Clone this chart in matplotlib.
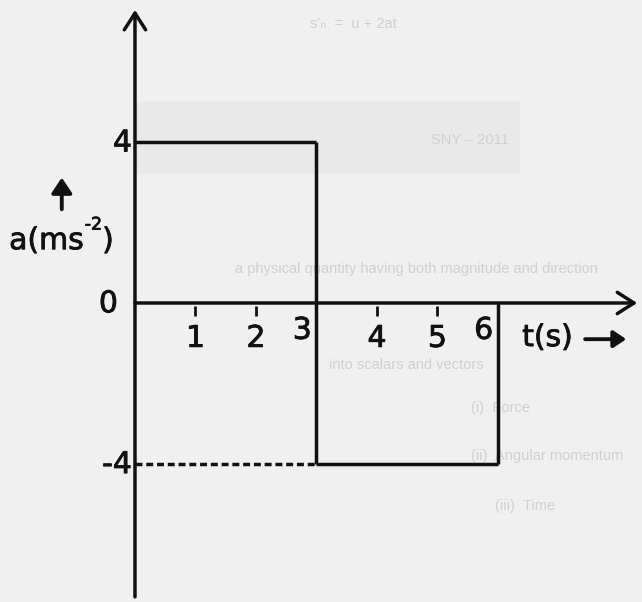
import matplotlib
matplotlib.use("Agg")
import matplotlib.pyplot as plt
import matplotlib.patheffects as pe

plt.rcParams['font.family'] = ['DejaVu Sans']

# acceleration-time data: piecewise constant acceleration
t_edges = [0, 3, 6]          # s
accel = [4, -4]              # m s^-2
t_ticks = [1, 2, 3, 4, 5, 6]
a_ticks = [4, 0, -4]

INK = '#111111'
PAPER = '#f0f0f0'
FAINT = '#d0d0d0'
FS = 21.5
heavy = [pe.withStroke(linewidth=0.6, foreground=INK)]

fig = plt.figure(figsize=(6.42, 6.02), dpi=100, facecolor=PAPER)
ax = fig.add_axes([0, 0, 1, 1])
ax.set_facecolor(PAPER)
ax.set_xlim(-2.231, 8.380)
ax.set_ylim(-7.438, 7.537)
ax.axis('off')

# faint print showing through from the reverse of the page
ax.axhspan(3.2, 5.0, xmin=0.21, xmax=0.81, color='#e9e9e9', zorder=0, lw=0)
faint = [
    (2.9, 6.95, "s'ₙ  =  u + 2at"),
    (4.9, 4.05, "SNY – 2011"),
    (1.65, 0.85, "a physical quantity having both magnitude and direction"),
    (3.2, -1.55, "into scalars and vectors"),
    (5.55, -2.6, "(i)  Force"),
    (5.55, -3.8, "(ii)  Angular momentum"),
    (5.95, -5.05, "(iii)  Time"),
]
for x, y, s in faint:
    ax.text(x, y, s, color=FAINT, fontsize=10.5, ha='left', va='center',
            zorder=0, family=['Liberation Sans', 'DejaVu Sans'])

LW = 2.5
open_head = dict(arrowstyle='->,head_length=0.5,head_width=0.32',
                 lw=LW, color=INK, mutation_scale=24, shrinkA=0, shrinkB=0)
# axes with open arrowheads
ax.annotate('', xy=(0, 7.29), xytext=(0, -7.31), arrowprops=open_head)
ax.annotate('', xy=(8.30, 0), xytext=(0, 0), arrowprops=open_head)

# acceleration segments
ax.hlines(accel[0], t_edges[0], t_edges[1], color=INK, lw=LW)
ax.vlines(t_edges[1], accel[1], accel[0], color=INK, lw=LW)
ax.hlines(accel[1], t_edges[1], t_edges[2], color=INK, lw=LW)
ax.vlines(t_edges[2], accel[1], 0, color=INK, lw=LW)
ax.hlines(accel[1], t_edges[0], t_edges[1], color=INK, lw=LW,
          linestyles=(0, (2.0, 1.1)))

# small tick marks on the time axis
minor = [t for t in t_ticks if t not in t_edges]
ax.vlines(minor, -0.07, -0.33, color=INK, lw=2.0)

# time tick labels
for t in t_ticks:
    if t in t_edges:
        ax.text(t - 0.08, -0.68, str(t), fontsize=FS, ha='right', va='center',
                color=INK, path_effects=heavy)
    else:
        ax.text(t, -0.88, str(t), fontsize=FS, ha='center', va='center',
                color=INK, path_effects=heavy)

# acceleration tick labels
for a in a_ticks:
    xoff = -0.28 if a == 0 else -0.05
    ax.text(xoff, a - 0.02, str(a), fontsize=FS, ha='right', va='center',
            color=INK, path_effects=heavy)

# vertical axis title: a(ms^-2) with a raised "-2"
fig.canvas.draw()
r = fig.canvas.get_renderer()
t1 = ax.text(-2.08, 1.55, 'a(ms', fontsize=FS, ha='left', va='center',
             color=INK, path_effects=heavy)
bb = t1.get_window_extent(r)
x_sup = ax.transData.inverted().transform((bb.x1 + 1, 0))[0]
t2 = ax.text(x_sup, 1.95, '-2', fontsize=12.5, ha='left', va='center',
             color=INK, path_effects=heavy)
bb2 = t2.get_window_extent(r)
x_par = ax.transData.inverted().transform((bb2.x1, 0))[0]
ax.text(x_par, 1.55, ')', fontsize=FS, ha='left', va='center',
        color=INK, path_effects=heavy)

small_head = dict(arrowstyle='-|>,head_length=0.42,head_width=0.28',
                  lw=2.8, color=INK, mutation_scale=22, shrinkA=0, shrinkB=0)
ax.annotate('', xy=(-1.21, 3.12), xytext=(-1.21, 2.33), arrowprops=small_head)

# horizontal axis title
ax.text(6.4, -0.86, 't(s)', fontsize=FS, ha='left', va='center',
        color=INK, path_effects=heavy)
ax.annotate('', xy=(8.12, -0.9), xytext=(7.44, -0.9),
            arrowprops=dict(arrowstyle='-|>,head_length=0.42,head_width=0.28',
                            lw=2.8, color=INK, mutation_scale=18,
                            shrinkA=0, shrinkB=0))

fig.savefig('out.png', dpi=100, facecolor=PAPER)
